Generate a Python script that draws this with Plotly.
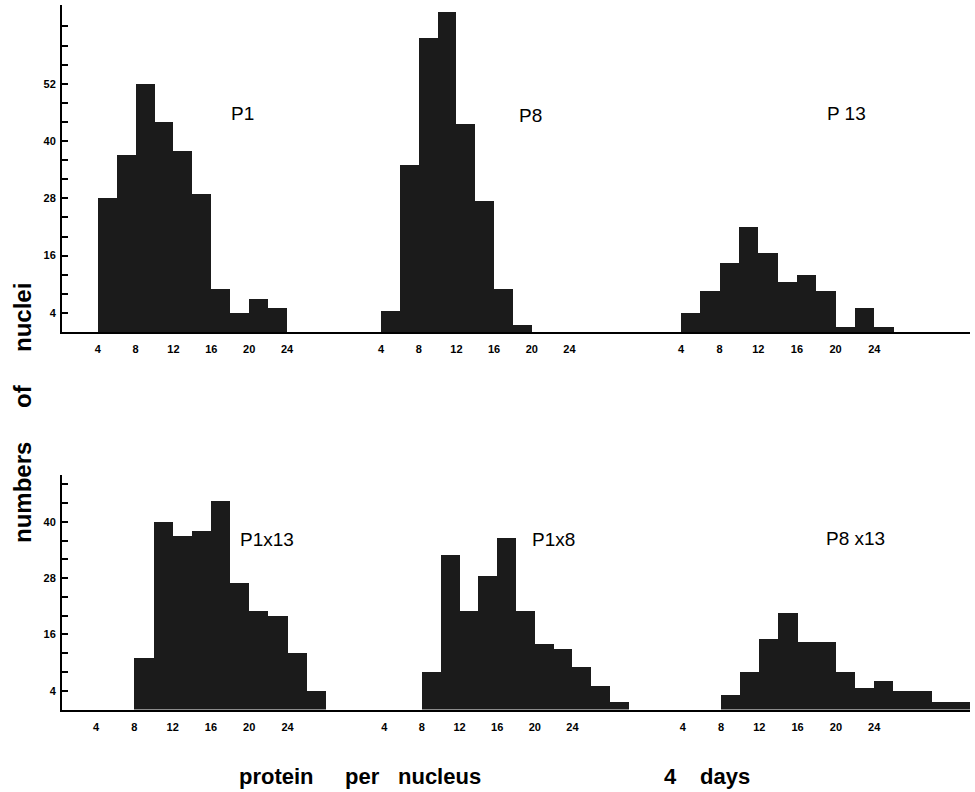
import plotly.graph_objects as go

W, H = 975, 792

# ---------------- data ----------------
bin_width = 2

p1_start = 4
p1_counts = [28, 37, 52, 44, 38, 29, 9, 4, 7, 5]

p8_start = 4
p8_counts = [4.5, 35, 61.5, 67, 43.5, 27.5, 9, 1.5]

p13_start = 4
p13_counts = [4, 8.5, 14.5, 22, 16.5, 10.5, 12, 8.5, 1, 5, 1]

p1x13_start = 8
p1x13_counts = [11, 40, 37, 38, 44.5, 27, 21, 20, 12, 4]

p1x8_start = 8
p1x8_counts = [8, 33, 21, 28.5, 36.5, 21, 14, 13, 9, 5, 1.5]

p8x13_start = 8
p8x13_counts = [3, 8, 15, 20.5, 14.5, 14.5, 8, 4.5, 6, 4, 4, 1.5, 1.5]

panel_labels = ["P1", "P8", "P 13", "P1x13", "P1x8", "P8 x13"]

x_tick_vals = [4, 8, 12, 16, 20, 24]
top_y_ticks = [4, 8, 12, 16, 20, 24, 28, 32, 36, 40, 44, 48, 52, 56, 60, 64]
top_y_labels = [4, 16, 28, 40, 52]
bottom_y_ticks = [4, 8, 12, 16, 20, 24, 28, 32, 36, 40, 44, 48]
bottom_y_labels = [4, 16, 28, 40]

# ---------------- layout helpers ----------------
def px_x(p):
    return p / W

def px_y(p):
    return 1 - p / H

BAR_COLOR = "#1b1b1b"
TICK_FONT = dict(family="Liberation Sans Narrow, Liberation Sans, Arial", size=11,
                 color="black", weight="bold")

panels = [
    (p1_start, p1_counts, 0, 0),
    (p8_start, p8_counts, 0, 1),
    (p13_start, p13_counts, 0, 2),
    (p1x13_start, p1x13_counts, 1, 0),
    (p1x8_start, p1x8_counts, 1, 1),
    (p8x13_start, p8x13_counts, 1, 2),
]

col_px = [(62, 343), (343, 642), (642, 970)]
row_px = [(5, 332), (475, 709.5)]
x_ranges = [
    [[0.23, 29.9], [-0.04, 31.7], [-0.03, 33.9]],
    [[0.43, 29.8], [-0.39, 31.4], [-0.25, 34.0]],
]
y_ranges = [[0, 68.5], [0, 50]]

fig = go.Figure()
layout = dict(
    width=W,
    height=H,
    margin=dict(l=0, r=0, t=0, b=0),
    paper_bgcolor="white",
    plot_bgcolor="white",
    showlegend=False,
    bargap=0,
)

for k, (start, counts, r, c) in enumerate(panels):
    idx = k + 1
    xname = "x" if idx == 1 else f"x{idx}"
    yname = "y" if idx == 1 else f"y{idx}"
    xs = [start + i * bin_width for i in range(len(counts))]
    fig.add_trace(go.Bar(
        x=xs, y=counts, width=bin_width, offset=0,
        marker=dict(color=BAR_COLOR, line=dict(width=0)),
        xaxis=xname, yaxis=yname, hoverinfo="skip",
    ))
    xa = dict(
        domain=[px_x(col_px[c][0]), px_x(col_px[c][1])],
        range=x_ranges[r][c],
        anchor=yname,
        showline=True, linecolor="black", linewidth=2,
        showgrid=False, zeroline=False,
        ticks="", tickvals=x_tick_vals, ticktext=[str(v) for v in x_tick_vals],
        tickfont=TICK_FONT, ticklabelstandoff=6,
        automargin=False, fixedrange=True,
    )
    if r == 0:
        yticks, ylabels = top_y_ticks, top_y_labels
    else:
        yticks, ylabels = bottom_y_ticks, bottom_y_labels
    ya = dict(
        domain=[px_y(row_px[r][1]), px_y(row_px[r][0])],
        range=y_ranges[r],
        anchor=xname,
        showgrid=False, zeroline=False,
        automargin=False, fixedrange=True,
    )
    if c == 0:
        ya.update(
            showline=True, linecolor="black", linewidth=2,
            ticks="inside", ticklen=6, tickwidth=1.5, tickcolor="black",
            tickvals=yticks,
            ticktext=[str(v) if v in ylabels else "" for v in yticks],
            tickfont=TICK_FONT, ticklabelstandoff=2,
        )
    else:
        ya.update(visible=False)
    layout["xaxis" if idx == 1 else f"xaxis{idx}"] = xa
    layout["yaxis" if idx == 1 else f"yaxis{idx}"] = ya

fig.update_layout(**layout)

# panel labels
label_pos = [(242, 114), (530, 115), (846, 114), (267, 539), (553, 539), (855, 538)]
for text, (px, py) in zip(panel_labels, label_pos):
    fig.add_annotation(
        x=px_x(px), y=px_y(py), xref="paper", yref="paper",
        text=text, showarrow=False, xanchor="center", yanchor="middle",
        font=dict(family="Liberation Sans, Arial", size=19, color="black"),
    )

# axis titles
AX_FONT = dict(family="Liberation Sans, Arial", size=24, color="black")
for word, py in [("numbers", 493), ("of", 396), ("nuclei", 318)]:
    fig.add_annotation(
        x=px_x(22), y=px_y(py), xref="paper", yref="paper",
        text=f"<b>{word}</b>", showarrow=False, textangle=-90,
        xanchor="center", yanchor="middle", font=AX_FONT,
    )

BOT_FONT = dict(family="Liberation Sans, Arial", size=22, color="black")
for word, px in [("protein", 276), ("per", 362), ("nucleus", 439), ("4", 670), ("days", 725)]:
    fig.add_annotation(
        x=px_x(px), y=px_y(776), xref="paper", yref="paper",
        text=f"<b>{word}</b>", showarrow=False,
        xanchor="center", yanchor="middle", font=BOT_FONT,
    )

fig.write_html("out.html",
               config={"displayModeBar": False},
               post_script="document.body.style.margin='0';document.body.style.padding='0';")
